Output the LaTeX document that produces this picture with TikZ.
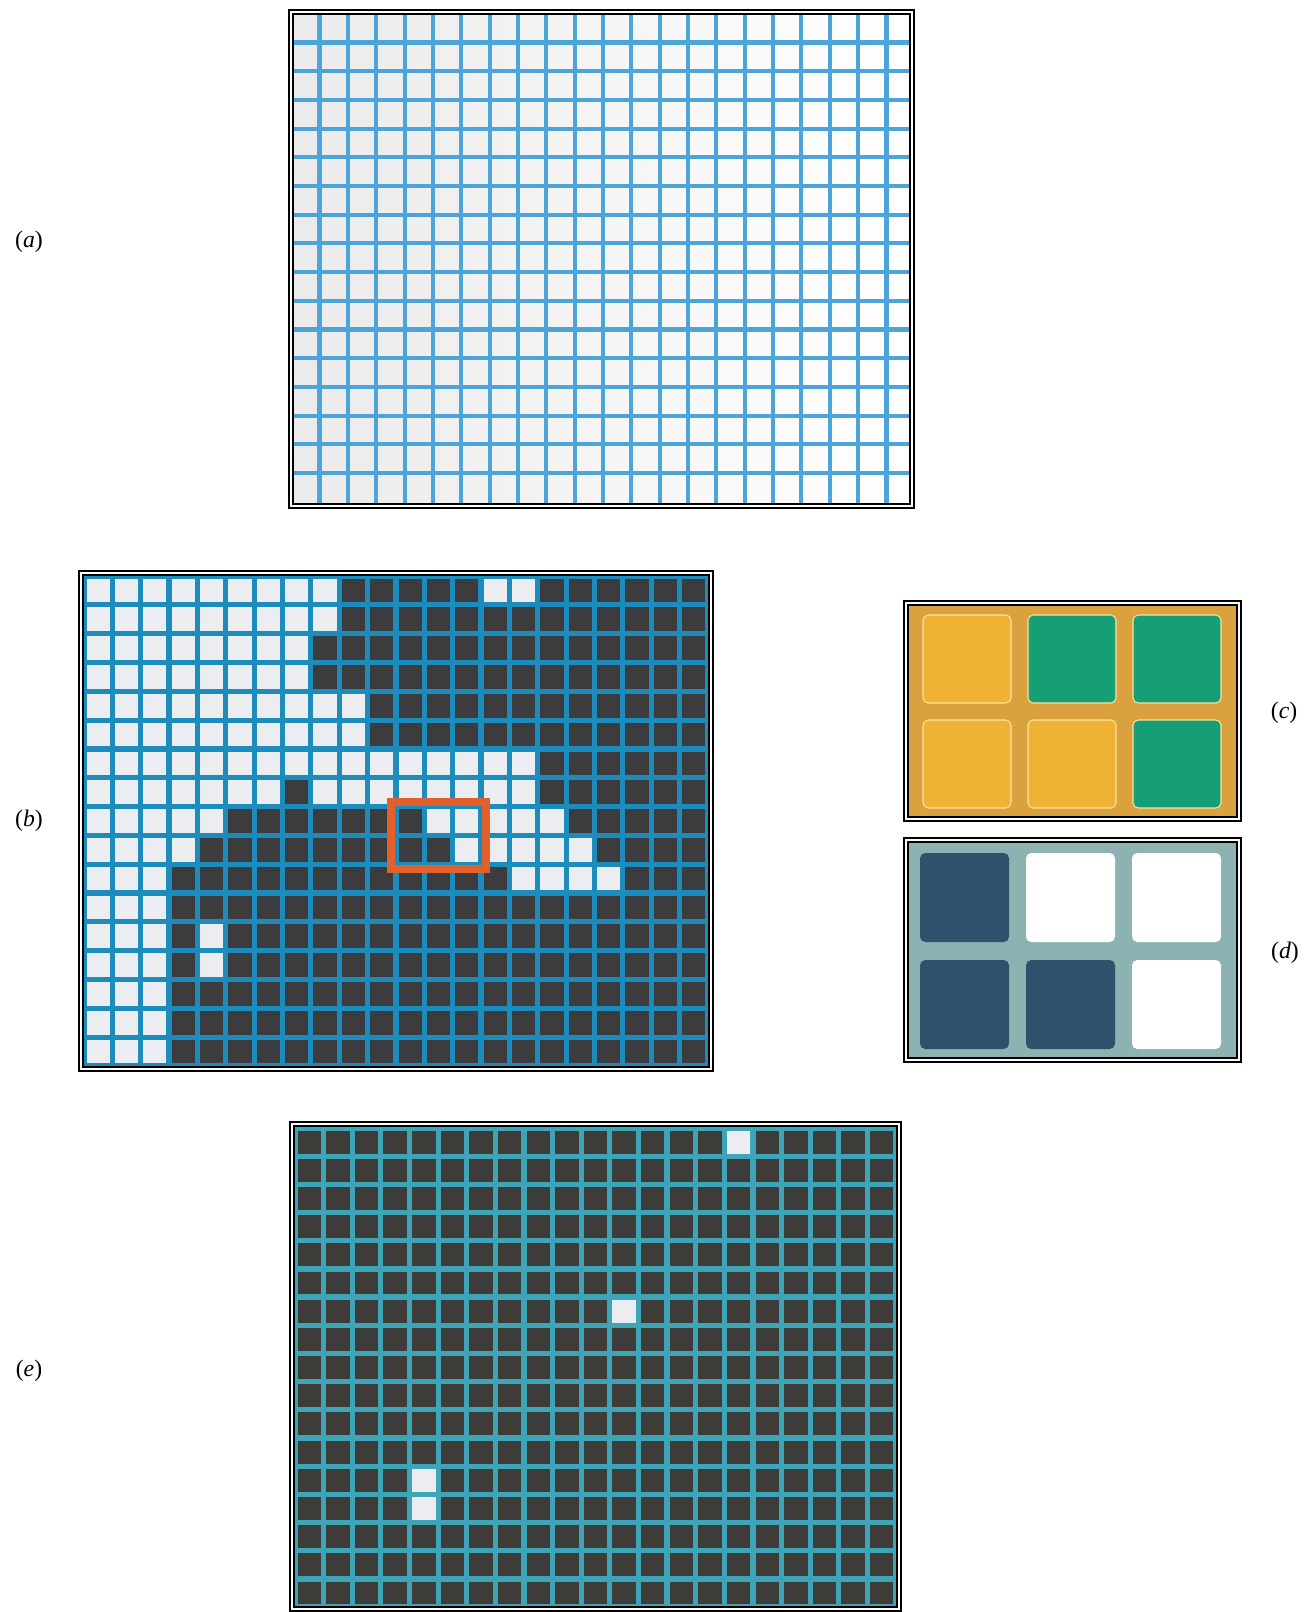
\documentclass[tikz,border=0pt]{standalone}
\usepackage{fontspec}
\setmainfont{Liberation Serif}
\usepackage{xcolor}
\definecolor{gridacolor}{RGB}{76, 164, 216}
\definecolor{gridbcolor}{RGB}{28, 140, 188}
\definecolor{gridecolor}{RGB}{62, 164, 184}
\definecolor{darkcell}{RGB}{60, 60, 62}
\definecolor{darkecell}{RGB}{62, 60, 56}
\definecolor{lightcell}{RGB}{236, 237, 240}
\definecolor{markcolor}{RGB}{226, 96, 44}
\definecolor{ambercolor}{RGB}{240, 178, 52}
\definecolor{amberback}{RGB}{218, 162, 62}
\definecolor{amberline}{RGB}{250, 228, 160}
\definecolor{tealcolor}{RGB}{22, 158, 118}
\definecolor{slatecolor}{RGB}{48, 80, 108}
\definecolor{greyteal}{RGB}{140, 178, 178}

% double frame round a panel, given its inner corners
\newcommand{\panelframe}[4]{%
  \draw[framein] (#1,#2) rectangle (#3,#4);
  \draw[frameout] ({#1-4},{#2-4}) rectangle ({#3+4},{#4+4});}
% one square of a grid: origin x, origin y, pitch x, pitch y, column, row, colour
\newcommand{\gridcell}[7]{%
  \fill[#7] ({#1+(#5-1)*#3+2.6},{#2+(#6-1)*#4+2.6}) rectangle ++({#3-5.2},{#4-5.2});}

\begin{document}
\begin{tikzpicture}[x=0.02cm, y=-0.02cm,
    agrid/.style={gridacolor, line width=2.3pt},
    framein/.style={black, line width=1.1pt},
    frameout/.style={black, line width=1.4pt},
    ccell/.style={draw=amberline, line width=0.6pt, rounded corners=3pt},
    dcell/.style={rounded corners=3pt},
    panellabel/.style={font=\fontsize{13.5}{15}\selectfont, inner sep=0pt}]
  \useasboundingbox (0,0) rectangle (1306,1612);

  % (a) empty grid
  \shade[left color=black!8, middle color=white, right color=white] (293,14) rectangle (910,504);
  \foreach \k in {0,...,20}
    \draw[agrid] ({319.5+28.35*\k},14) -- ({319.5+28.35*\k},504);
  \foreach \k in {0,...,15}
    \draw[agrid] (293,{42.5+28.7*\k}) -- (910,{42.5+28.7*\k});
  \panelframe{293}{14}{910}{504}
  \node[panellabel] (lbla) at (29,242) {(\textit{a})};

  % (b) thresholded grid
  \fill[gridbcolor] (83,575) rectangle (709,1067);
  \foreach \r in {1,...,17}{
    \foreach \c in {1,...,22}{
      \gridcell{84}{576}{28.36}{28.82}{\c}{\r}{darkcell}}}
  \foreach \r/\cl in {1/{1,2,3,4,5,6,7,8,9,15,16}, 2/{1,2,3,4,5,6,7,8,9},
      3/{1,2,3,4,5,6,7,8}, 4/{1,2,3,4,5,6,7,8}, 5/{1,2,3,4,5,6,7,8,9,10},
      6/{1,2,3,4,5,6,7,8,9,10}, 7/{1,2,3,4,5,6,7,8,9,10,11,12,13,14,15,16},
      8/{1,2,3,4,5,6,7,9,10,11,12,13,14,15,16}, 9/{1,2,3,4,5,13,14,15,16,17},
      10/{1,2,3,4,14,15,16,17,18}, 11/{1,2,3,16,17,18,19}, 12/{1,2,3},
      13/{1,2,3,5}, 14/{1,2,3,5}, 15/{1,2,3}, 16/{1,2,3}, 17/{1,2,3}}{
    \foreach \c in \cl{
      \gridcell{84}{576}{28.36}{28.82}{\c}{\r}{lightcell}}}
  \draw[markcolor, line width=5.1pt] (391,802) rectangle (486,869);
  \panelframe{83}{575}{709}{1067}
  \node[panellabel] (lblb) at (29,821) {(\textit{b})};

  % (c) enlarged window, two classes
  \fill[amberback] (908,605) rectangle (1237,817);
  \foreach \i/\j/\clr in {0/0/ambercolor, 1/0/tealcolor, 2/0/tealcolor,
      0/1/ambercolor, 1/1/ambercolor, 2/1/tealcolor}
    \draw[ccell, fill=\clr] ({923+105*\i},{615+105*\j}) rectangle ++(88,88);
  \panelframe{908}{605}{1237}{817}
  \node[panellabel] (lblc) at (1284,713) {(\textit{c})};

  % (d) enlarged window, binary
  \fill[greyteal] (908,842) rectangle (1237,1058);
  \foreach \i/\j/\clr in {0/0/slatecolor, 1/0/white, 2/0/white,
      0/1/slatecolor, 1/1/slatecolor, 2/1/white}
    \fill[dcell, \clr] ({920+106*\i},{853+107*\j}) rectangle ++(89,89);
  \panelframe{908}{842}{1237}{1058}
  \node[panellabel] (lbld) at (1285,953) {(\textit{d})};

  % (e) sparse grid
  \fill[gridecolor] (294,1126) rectangle (897,1607);
  \foreach \r in {1,...,17}{
    \foreach \c in {1,...,21}{
      \gridcell{295}{1128}{28.62}{28.18}{\c}{\r}{darkecell}}}
  \foreach \c/\r in {16/1, 12/7, 5/13, 5/14}{
    \gridcell{295}{1128}{28.62}{28.18}{\c}{\r}{lightcell}}
  \panelframe{294}{1126}{897}{1607}
  \node[panellabel] (lble) at (29,1371) {(\textit{e})};
\end{tikzpicture}
\end{document}
